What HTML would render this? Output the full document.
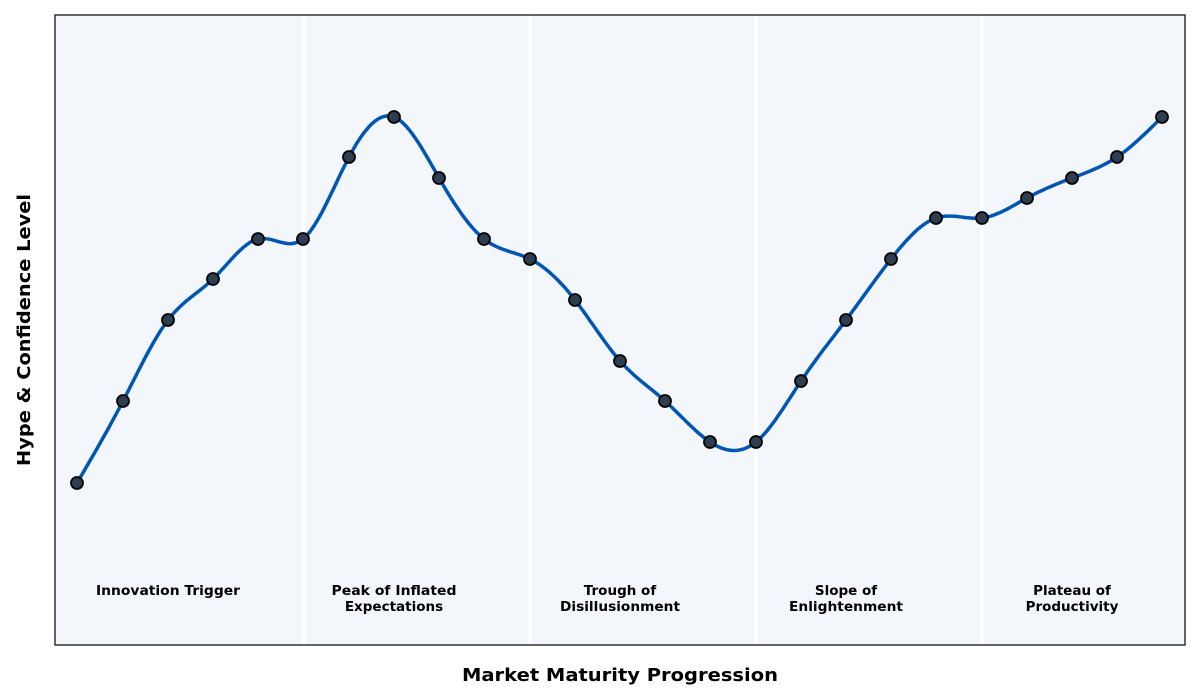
<!DOCTYPE html>
<html><head><meta charset="utf-8"><style>
body{margin:0;background:#fff;}
svg{display:block;font-family:"DejaVu Sans","Liberation Sans",sans-serif;}
</style></head><body>
<svg id="s" width="1200" height="700" viewBox="0 0 1200 700">
<rect x="55" y="15" width="1130" height="630" fill="#f3f6fa"/>
<g stroke="#ffffff" stroke-width="3">
<line x1="304" y1="15" x2="304" y2="645"/>
<line x1="530" y1="15" x2="530" y2="645"/>
<line x1="756" y1="15" x2="756" y2="645"/>
<line x1="982" y1="15" x2="982" y2="645"/>
</g>
<path id="curve" d="" fill="none" stroke="#0057b3" stroke-width="3.5" stroke-linejoin="round"/>
<g id="pts" fill="#2c3e50" stroke="#000" stroke-width="1.8"></g>
<rect x="55" y="15" width="1130" height="630" fill="none" stroke="#333" stroke-width="1.5"/>
<g font-size="13.5" font-weight="bold" text-anchor="middle" fill="#000">
<text x="168" y="595" textLength="144" lengthAdjust="spacingAndGlyphs">Innovation Trigger</text>
<text x="394" y="595" textLength="125" lengthAdjust="spacingAndGlyphs">Peak of Inflated</text><text x="394" y="611">Expectations</text>
<text x="620" y="595">Trough of</text><text x="620" y="611" textLength="120" lengthAdjust="spacingAndGlyphs">Disillusionment</text>
<text x="846" y="595">Slope of</text><text x="846" y="611" textLength="114" lengthAdjust="spacingAndGlyphs">Enlightenment</text>
<text x="1072" y="595">Plateau of</text><text x="1072" y="611">Productivity</text>
</g>
<text x="620" y="681" font-size="18" font-weight="bold" text-anchor="middle" textLength="316" lengthAdjust="spacingAndGlyphs">Market Maturity Progression</text>
<text transform="translate(30,330) rotate(-90)" font-size="18" font-weight="bold" text-anchor="middle" textLength="272" lengthAdjust="spacingAndGlyphs">Hype &amp; Confidence Level</text>
</svg>
<script>
var P=[[77,483],[123,401],[168,320],[213,279],[258,239],[303,239],[349,157],[394,117],[439,178],[484,239],[530,259],[575,300],[620,361],[665,401],[710,442],[756,442],[801,381],[846,320],[891,259],[936,218],[982,218],[1027,198],[1072,178],[1117,157],[1162,117]];
var n=P.length,x=P.map(p=>p[0]),y=P.map(p=>p[1]);
var h=[],a=[],l=[1],mu=[0],z=[0],c=new Array(n).fill(0),b=[],d=[];
for(var i=0;i<n-1;i++)h[i]=x[i+1]-x[i];
for(i=1;i<n-1;i++)a[i]=3/h[i]*(y[i+1]-y[i])-3/h[i-1]*(y[i]-y[i-1]);
for(i=1;i<n-1;i++){l[i]=2*(x[i+1]-x[i-1])-h[i-1]*mu[i-1];mu[i]=h[i]/l[i];z[i]=(a[i]-h[i-1]*z[i-1])/l[i];}
for(i=n-2;i>=0;i--){c[i]=(i<n-1?z[i]||0:0)-mu[i]*c[i+1];if(i==0)c[0]=0;b[i]=(y[i+1]-y[i])/h[i]-h[i]*(c[i+1]+2*c[i])/3;d[i]=(c[i+1]-c[i])/(3*h[i]);}
var s="M"+x[0]+","+y[0];
for(i=0;i<n-1;i++){for(var k=1;k<=12;k++){var t=h[i]*k/12;s+=" L"+(x[i]+t).toFixed(1)+","+(y[i]+b[i]*t+c[i]*t*t+d[i]*t*t*t).toFixed(1);}}
document.getElementById("curve").setAttribute("d",s);
var g=document.getElementById("pts");
P.forEach(function(p){var e=document.createElementNS("http://www.w3.org/2000/svg","circle");e.setAttribute("cx",p[0]);e.setAttribute("cy",p[1]);e.setAttribute("r",6);g.appendChild(e);});
</script>
</body></html>
